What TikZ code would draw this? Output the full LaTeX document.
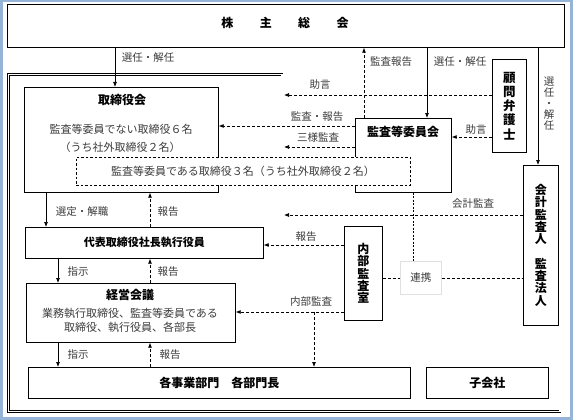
\documentclass[tikz,border=0pt]{standalone}
\usepackage{fontspec}
\setmainfont{Noto Sans CJK JP}
\usetikzlibrary{arrows.meta}
\definecolor{bordercol}{RGB}{150,180,215}
\definecolor{lblcol}{RGB}{60,60,60}
\begin{document}
\begin{tikzpicture}[x=1pt,y=-1pt,
  box/.style={draw,line width=0.7pt,fill=white,anchor=north west,inner sep=0pt},
  dbox/.style={box,dash pattern=on 2.5pt off 2pt},
  lbl/.style={font=\fontsize{10.5}{11}\selectfont,text=lblcol,inner sep=0pt},
  ttl/.style={font=\fontsize{12}{13}\selectfont\bfseries,inner sep=0pt},
  txt/.style={font=\fontsize{11}{12}\selectfont,text=lblcol,inner sep=0pt},
  arr/.style={line width=0.7pt,-{Latex[length=5pt,width=4pt]}},
  darr/.style={arr,dash pattern=on 3pt off 2pt},
  dline/.style={line width=0.7pt,dash pattern=on 3pt off 2pt},
  dotl/.style={line width=0.7pt,dash pattern=on 2pt off 1.5pt},
  frame/.style={double,double distance=1.8pt,line width=0.5pt}
]
\useasboundingbox (0,0) rectangle (573,420);
\fill[white] (0,0) rectangle (573,420);
\draw[line width=2.5pt,bordercol] (1.25,1.25) rectangle (571.5,418.5);

% frame
\draw[frame] (8.5,74.5) -- (282,74.5) -- (282,350) -- (560,350) -- (560,411.5) -- (8.5,411.5) -- cycle;
\coordinate (fr95) at (284,95);
\coordinate (fr147) at (284,147);
\coordinate (fr215) at (284,215);

% boxes
\node[box,minimum width=557pt,minimum height=43pt] (kabu) at (7,4) {};
\node[ttl] (kabut) at (285,23) {株\hspace{2.2em}主\hspace{2.2em}総\hspace{2.2em}会};
\node[box,minimum width=194pt,minimum height=105pt] (tori) at (24,87) {};
\node[ttl] (torit) at (122,100) {取締役会};
\node[txt] (tori1) at (121,129) {監査等委員でない取締役６名};
\node[txt] (tori2) at (120,147) {（うち社外取締役２名）};
\node[box,minimum width=96pt,minimum height=74pt] (kansa) at (355,118) {};
\node[ttl] (kansat) at (403,132) {監査等委員会};
\node[box,minimum width=34pt,minimum height=93pt,font=\fontsize{12.5}{14.2}\selectfont\bfseries,align=center] (komon) at (492,59) {顧\\問\\弁\\護\\士};
\node[box,minimum width=35pt,minimum height=160pt,font=\fontsize{12}{12.3}\selectfont\bfseries,align=center] (kaikei) at (523,165) {会\\計\\監\\査\\人\\\mbox{}\\監\\査\\法\\人};
\node[box,minimum width=238pt,minimum height=31pt,font=\fontsize{11}{12}\selectfont\bfseries] (daihyo) at (25,227) {代表取締役社長執行役員};
\node[box,minimum width=209pt,minimum height=59pt] (keiei) at (26,283) {};
\node[ttl] (keieit) at (130,295) {経営会議};
\node[txt] (keiei1) at (130,313) {業務執行取締役、監査等委員である};
\node[txt] (keiei2) at (130,327.5) {取締役、執行役員、各部長};
\node[box,minimum width=382pt,minimum height=31pt,font=\fontsize{12}{13}\selectfont\bfseries] (jigyo) at (28,367) {各事業部門\hspace{1em}各部門長};
\node[box,minimum width=122pt,minimum height=31pt,font=\fontsize{12}{13}\selectfont\bfseries] (kogai) at (426,367) {子会社};
\node[box,minimum width=38pt,minimum height=94pt,font=\fontsize{12}{12.3}\selectfont\bfseries,align=center] (naibu) at (344,226) {内\\部\\監\\査\\室};
\node[box,draw=black!12,minimum width=41pt,minimum height=33pt,font=\fontsize{10.5}{11}\selectfont,text=lblcol] (renkei) at (400,261) {連携};

% helper coordinates
\coordinate (x115) at (115,0);
\coordinate (x364) at (364,0);
\coordinate (x427) at (427,0);
\coordinate (x538) at (538,0);
\coordinate (x413) at (413,0);
\coordinate (x46) at (46,0);
\coordinate (x58) at (58,0);
\coordinate (x150) at (150,0);
\coordinate (y126) at (0,126);
\coordinate (y137) at (0,137);
\coordinate (y245) at (0,245);
\coordinate (y312) at (0,312);
\coordinate (br) at (314,312);

% connectors
\draw[arr] (kabu.south -| x115) -- (tori.north -| x115);
\draw[darr] (kansa.north -| x364) -- (kabu.south -| x364);
\draw[arr] (kabu.south -| x427) -- (kansa.north -| x427);
\draw[arr] (kabu.south -| x538) -- (kaikei.north -| x538);
\draw[darr] (komon.west |- fr95) -- (fr95);
\draw[darr] (kansa.west |- y126) -- (tori.east |- y126);
\draw[darr] (kansa.west |- fr147) -- (fr147);
\draw[darr] (komon.west |- y137) -- (kansa.east |- y137);
\draw[darr] (kaikei.west |- fr215) -- (fr215);
\draw[darr] (naibu.west |- y245) -- (daihyo.east |- y245);
\draw[arr] (tori.south -| x46) -- (daihyo.north -| x46);
\draw[darr] (daihyo.north -| x150) -- (tori.south -| x150);
\draw[arr] (daihyo.south -| x58) -- (keiei.north -| x58);
\draw[darr] (keiei.north -| x150) -- (daihyo.south -| x150);
\draw[arr] (keiei.south -| x58) -- (jigyo.north -| x58);
\draw[darr] (jigyo.north -| x150) -- (keiei.south -| x150);
\draw[darr] (naibu.west |- y312) -- (keiei.east |- y312);
\draw[darr] (br) -- (jigyo.north -| br);
\draw[dotl] (kansa.south -| x413) -- (renkei.north -| x413);
\draw[dline] (naibu.east |- renkei.west) -- (renkei.west);
\draw[dline] (renkei.east) -- (kaikei.west |- renkei.east);

% dashed box on top of frame and boxes
\node[dbox,minimum width=334pt,minimum height=28pt] (dsh) at (76,157) {};
\node[txt] (dsht) at (243,171) {監査等委員である取締役３名（うち社外取締役２名）};

% labels
\node[lbl] (l1) at (148,58) {選任・解任};
\node[lbl] (l2) at (391,62) {監査報告};
\node[lbl] (l3) at (460,62) {選任・解任};
\node[lbl] (l4) at (320,85) {助言};
\node[lbl] (l5) at (317,117) {監査・報告};
\node[lbl] (l6) at (318,138) {三様監査};
\node[lbl] (l7) at (476,130) {助言};
\node[lbl,align=center,font=\fontsize{10.5}{11}\selectfont] (l8) at (549,104) {選\\任\\・\\解\\任};
\node[lbl] (l9) at (473,204) {会計監査};
\node[lbl] (l10) at (306,237) {報告};
\node[lbl] (l11) at (311,302) {内部監査};
\node[lbl] (l12) at (82,212) {選定・解職};
\node[lbl] (l13) at (168,212) {報告};
\node[lbl] (l14) at (78,272) {指示};
\node[lbl] (l15) at (168,272) {報告};
\node[lbl] (l16) at (78,355) {指示};
\node[lbl] (l17) at (170,355) {報告};
\end{tikzpicture}
\end{document}
